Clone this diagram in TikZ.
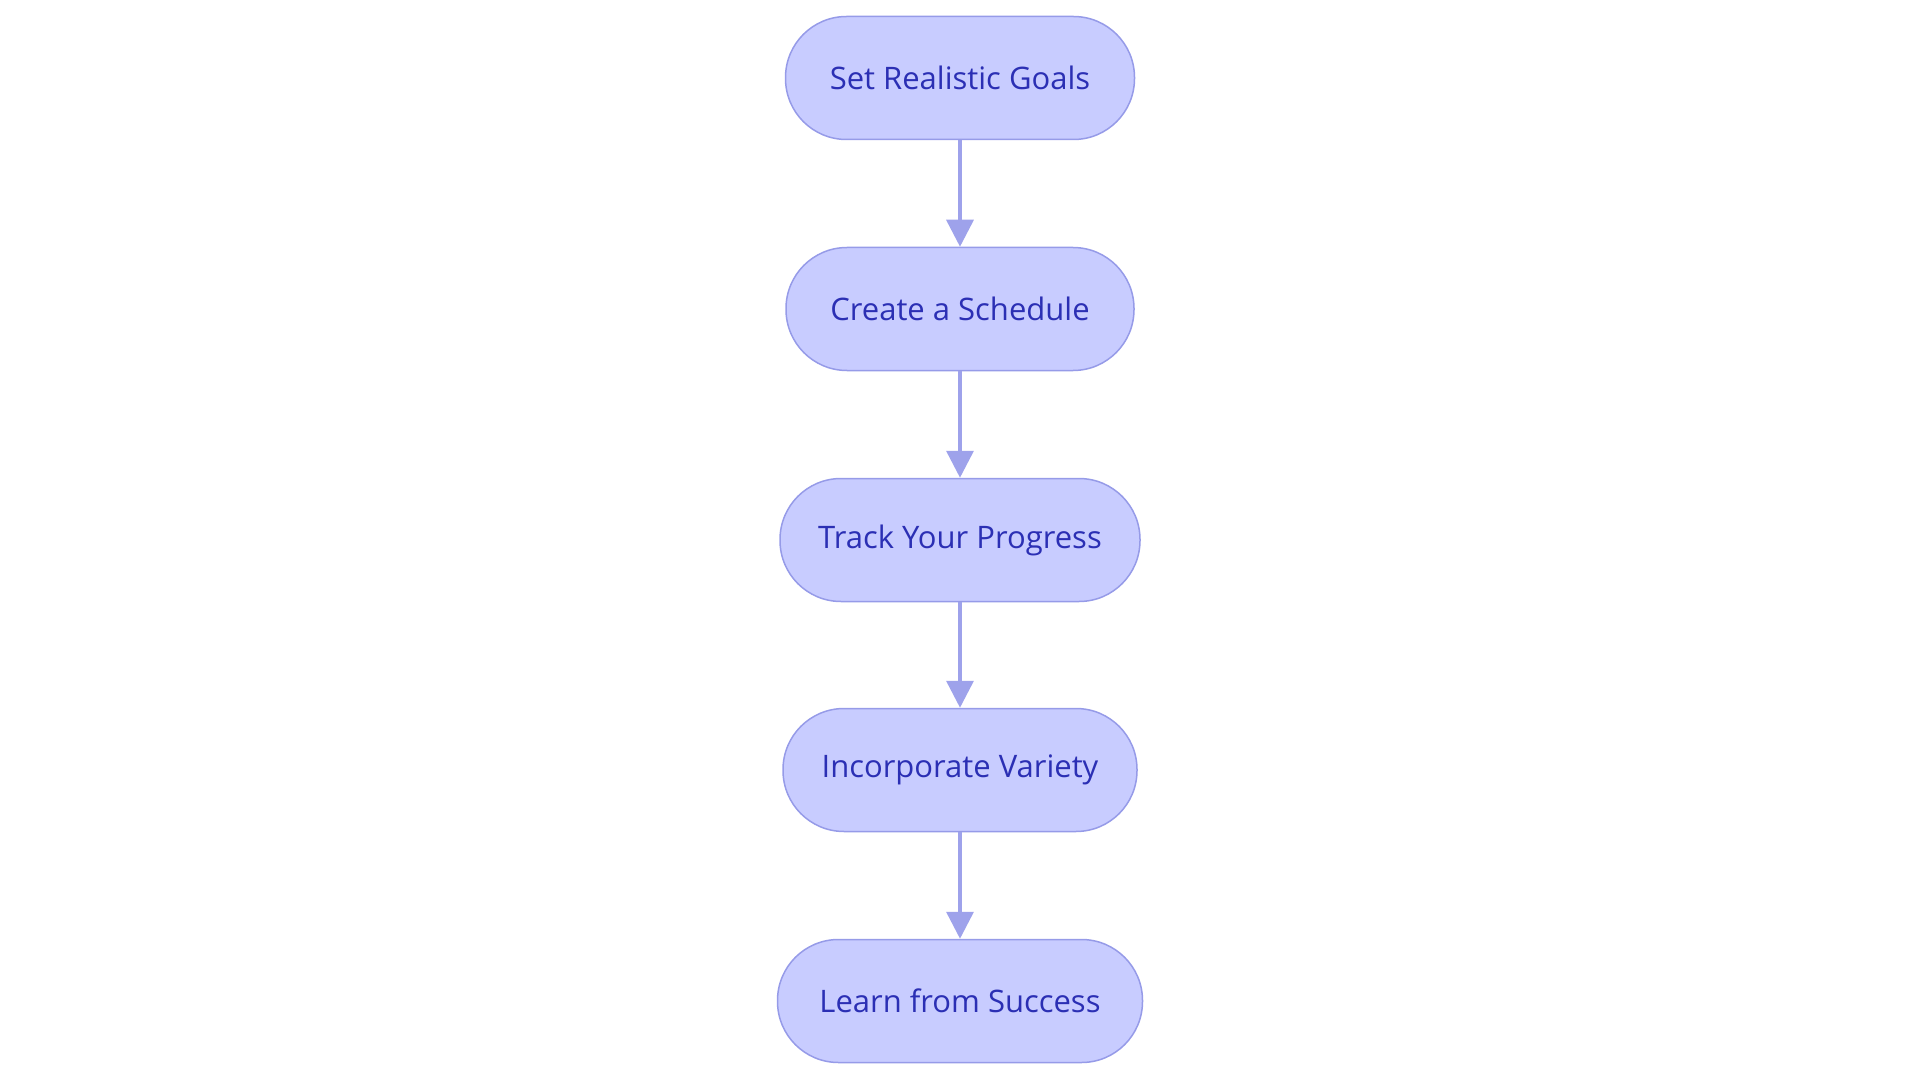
\documentclass[tikz,border=0pt]{standalone}
\usepackage{fontspec}
\setmainfont{Open Sans}
\usetikzlibrary{arrows.meta}
\definecolor{nodefill}{RGB}{200,204,255}
\definecolor{nodestroke}{RGB}{150,155,232}
\definecolor{nodetext}{RGB}{43,47,180}
\definecolor{arrowcol}{RGB}{158,162,235}
\tikzset{
  stepbox/.style={draw=nodestroke, fill=nodefill, line width=1.5pt,
    rounded corners=61pt, minimum height=123pt, inner sep=0pt,
    text=nodetext, font=\fontsize{31}{37}\selectfont},
  flow/.style={draw=arrowcol, line width=3.5pt,
    -{Triangle[length=27pt,width=27pt]}, shorten >=0pt}
}
\begin{document}
\begin{tikzpicture}[x=1pt,y=-1pt]
\useasboundingbox (0,0) rectangle (1920,1083);
\node[stepbox, minimum width=349pt] (a) at (960,78) {Set Realistic Goals};
\node[stepbox, minimum width=348pt] (b) at (960,309) {Create a Schedule};
\node[stepbox, minimum width=360pt] (c) at (960,540) {Track Your Progress};
\node[stepbox, minimum width=354pt] (d) at (960,770) {Incorporate Variety};
\node[stepbox, minimum width=365pt] (e) at (960,1001) {Learn from Success};
\draw[flow] (a) -- (b);
\draw[flow] (b) -- (c);
\draw[flow] (c) -- (d);
\draw[flow] (d) -- (e);
\end{tikzpicture}
\end{document}
